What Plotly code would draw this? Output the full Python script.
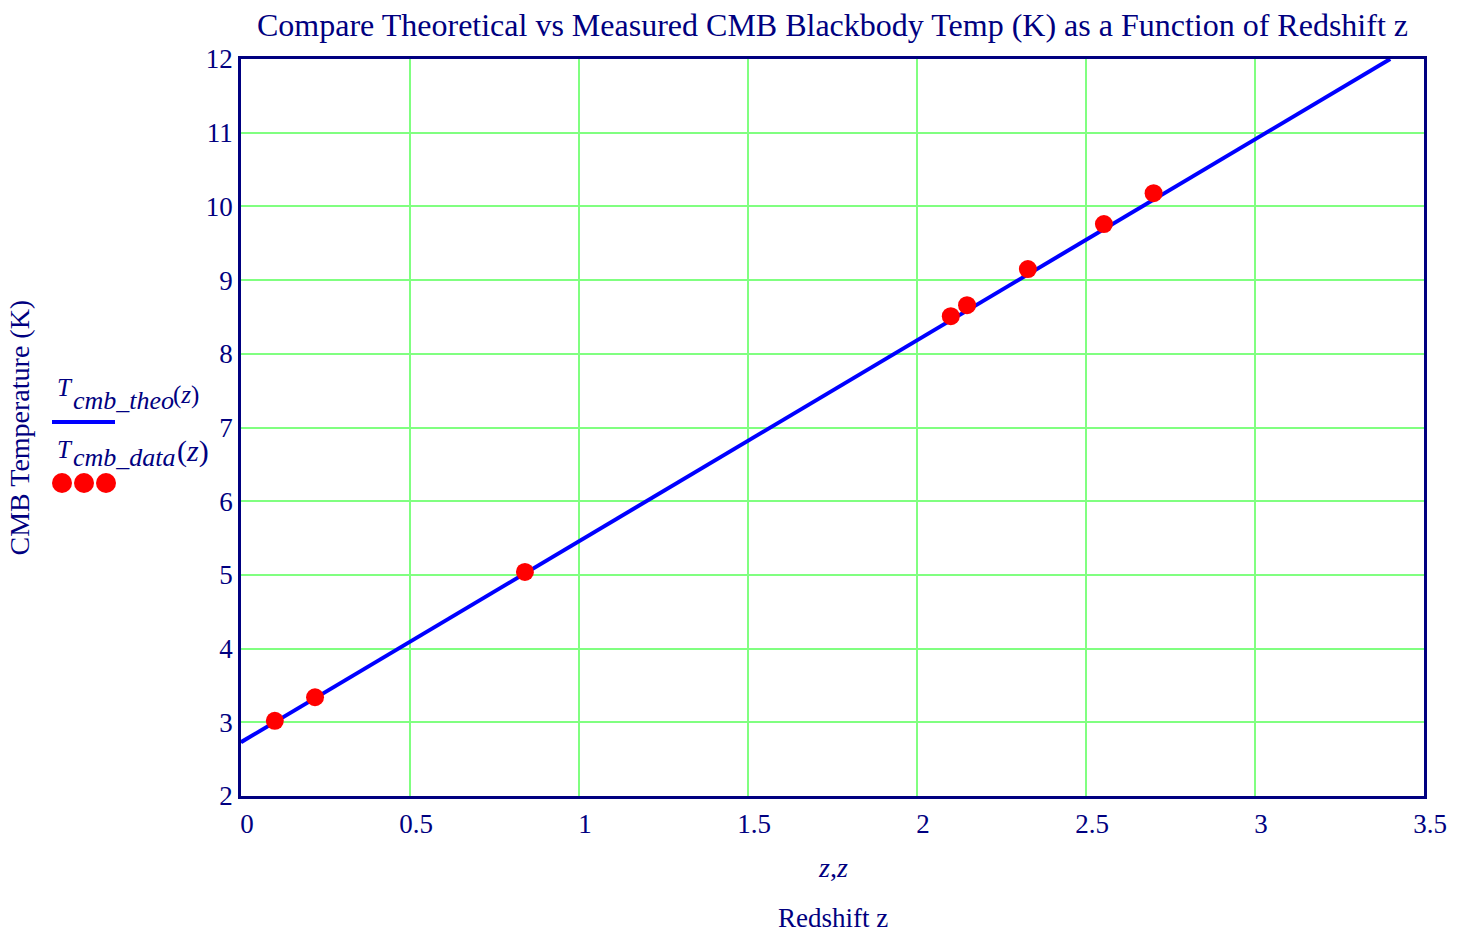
import plotly.graph_objects as go

# Data
z_data = [0.10, 0.219, 0.84, 2.10, 2.148, 2.328, 2.553, 2.70]
T_data = [3.02, 3.34, 5.04, 8.51, 8.66, 9.15, 9.76, 10.18]

# Theoretical line endpoints
z_theo = [0.0, 3.40]
T_theo = [2.73, 12.0]

x_ticks = [0, 0.5, 1, 1.5, 2, 2.5, 3, 3.5]
y_ticks = [2, 3, 4, 5, 6, 7, 8, 9, 10, 11, 12]

NAVY = "#000080"
FONT = "Liberation Serif, Times New Roman, serif"

fig = go.Figure()
fig.add_trace(go.Scatter(x=z_theo, y=T_theo, mode="lines",
                         line=dict(color="#0000FF", width=4),
                         showlegend=False, hoverinfo="skip"))
fig.add_trace(go.Scatter(x=z_data, y=T_data, mode="markers",
                         marker=dict(color="#FF0000", size=18, line=dict(width=0)),
                         showlegend=False))

fig.update_layout(
    width=1464, height=934,
    margin=dict(l=241, r=40, t=59, b=138),
    paper_bgcolor="white", plot_bgcolor="white",
    font=dict(family=FONT, color=NAVY, size=26),
    title=dict(text="Compare Theoretical vs Measured CMB Blackbody Temp (K) as a Function of Redshift z",
               x=0.5, xref="paper", xanchor="center",
               y=1 - 25 / 934, yref="container", yanchor="middle",
               font=dict(family=FONT, color=NAVY, size=32)),
    showlegend=False,
)

fig.update_xaxes(range=[0, 3.5], tickvals=x_ticks, ticktext=[f"{v:g}" for v in x_ticks],
                 showline=True, mirror=True, linecolor=NAVY, linewidth=2.5,
                 showgrid=True, gridcolor="#80FF80", gridwidth=2, zeroline=False,
                 ticks="outside", ticklen=2, tickcolor="rgba(0,0,0,0)",
                 ticklabelshift=6,
                 tickfont=dict(family=FONT, color=NAVY, size=27))
fig.update_yaxes(range=[2, 12], tickvals=y_ticks,
                 showline=True, mirror=True, linecolor=NAVY, linewidth=2.5,
                 showgrid=True, gridcolor="#80FF80", gridwidth=2, zeroline=False,
                 ticks="", ticklen=0, ticklabelshift=0,
                 tickfont=dict(family=FONT, color=NAVY, size=27))

ann = []
# y-axis title
ann.append(dict(text="CMB Temperature (K)", textangle=-90, xref="paper", yref="paper",
                x=0, y=0.5, xanchor="center", yanchor="middle", xshift=-222,
                showarrow=False, font=dict(family=FONT, color=NAVY, size=28)))
# x-axis titles
ann.append(dict(text="<i>z</i>,<i>z</i>", xref="paper", yref="paper", x=0.5, y=0,
                xanchor="center", yanchor="middle", yshift=-71, showarrow=False,
                font=dict(family=FONT, color=NAVY, size=28)))
ann.append(dict(text="Redshift z", xref="paper", yref="paper", x=0.5, y=0,
                xanchor="center", yanchor="middle", yshift=-122, showarrow=False,
                font=dict(family=FONT, color=NAVY, size=27)))

# custom legend text
def leg(text, xs, ys, size):
    ann.append(dict(text=text, xref="paper", yref="paper", x=0, y=0,
                    xanchor="left", yanchor="middle", xshift=xs, yshift=ys,
                    showarrow=False, font=dict(family=FONT, color=NAVY, size=size)))

leg("<i>T</i>", -186, 409, 25)
leg("<i>cmb_theo</i>", -170, 396, 26)
leg("(<i>z</i>)", -70, 401, 25)
leg("<i>T</i>", -186, 347, 25)
leg("<i>cmb_data</i>", -170, 339, 26)
leg("(<i>z</i>)", -66, 345, 30)
fig.update_layout(annotations=ann)

# custom legend symbols
shapes = [dict(type="line", xref="paper", yref="paper", xsizemode="pixel", ysizemode="pixel",
               xanchor=0, yanchor=0, x0=-189, x1=-126, y0=374, y1=374,
               line=dict(color="#0000FF", width=4))]
for cx in [-179, -157, -135]:
    shapes.append(dict(type="circle", xref="paper", yref="paper", xsizemode="pixel",
                       ysizemode="pixel", xanchor=0, yanchor=0,
                       x0=cx - 10, x1=cx + 10, y0=303, y1=323,
                       fillcolor="#FF0000", line=dict(width=0)))
fig.update_layout(shapes=shapes)

fig.write_html("out.html", config={"displayModeBar": False},
               post_script="document.body.style.margin='0';")
